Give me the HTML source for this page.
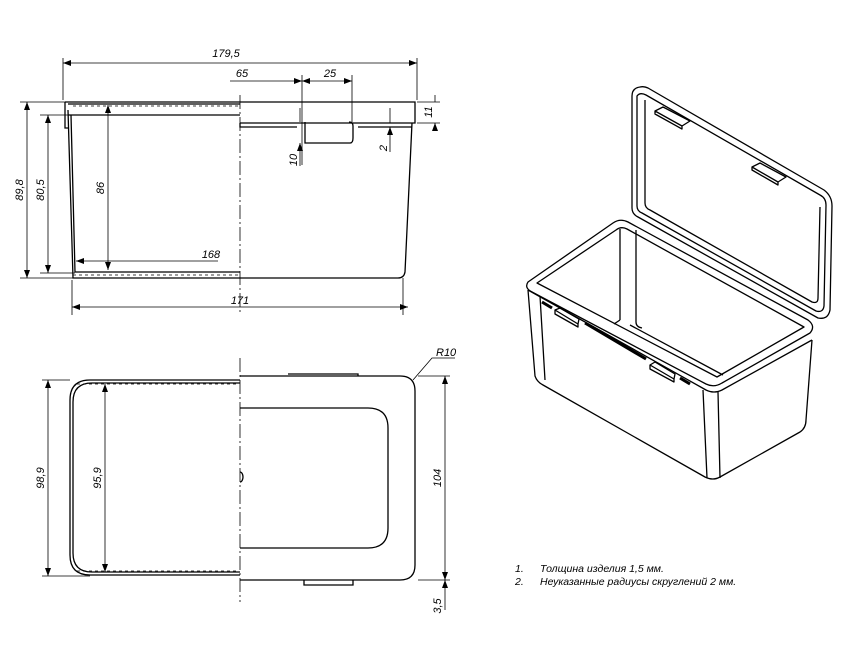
<!DOCTYPE html>
<html><head><meta charset="utf-8"><style>html,body{margin:0;padding:0;background:#fff}svg{display:block}</style></head>
<body>
<svg width="866" height="650" viewBox="0 0 866 650" xmlns="http://www.w3.org/2000/svg" font-family="Liberation Sans, DejaVu Sans, sans-serif" font-style="italic" font-size="11" fill="none" stroke="#000">
<defs>
<marker id="a" markerWidth="8" markerHeight="6" refX="8" refY="3" orient="auto-start-reverse" markerUnits="userSpaceOnUse"><path d="M0,0 L8,3 L0,6" fill="#000" stroke="none"/></marker>
</defs>
<!-- FRONT VIEW -->
<g stroke-width="1.3">
<path d="M65,102 H415 V123 H240"/>
<path d="M65,102 V128 H68"/>
<path d="M68,104 H240"/>
<path d="M68,115 H240"/>
<path d="M68,110 L73,278 H240"/>
<path d="M71,115 L75,272 H240"/>
<path d="M412,123 L405,272 Q404,278 398,278 H240"/>
<path d="M240,123 V127 H297 M358,127 H412"/>
<path d="M305,122 V143 H350 Q353,143 353,138 V126 Q353,122 349,122"/>
</g>
<g stroke-width="0.8">
<path d="M240,95 V315" stroke-dasharray="14,3,2,3"/>
<path d="M73,106 H238 M73,275 H238" stroke-dasharray="3,3"/>
<path d="M63,100 V58 M417,100 V58 M302,75 V165 M352,75 V122 M403,278 V315 M72,280 V315 M20,102 H65 M20,278 H75 M40,115 H70 M40,273 H75 M417,102 H440 M417,123 H440"/>
<path d="M63,63 H417" marker-start="url(#a)" marker-end="url(#a)"/>
<path d="M230,81 H302" marker-end="url(#a)"/>
<path d="M302,81 H352" marker-start="url(#a)" marker-end="url(#a)"/>
<path d="M72,307 H408" marker-start="url(#a)" marker-end="url(#a)"/>
<path d="M27,102 V278" marker-start="url(#a)" marker-end="url(#a)"/>
<path d="M48,115 V273" marker-start="url(#a)" marker-end="url(#a)"/>
<path d="M108,105 V270" marker-start="url(#a)" marker-end="url(#a)"/>
<path d="M218,261 H76" marker-end="url(#a)"/>
<path d="M300,108 V122 M300,166 V143" marker-end="url(#a)"/>
<path d="M390,108 V123 M390,152 V127" marker-end="url(#a)"/>
<path d="M435,95 V102 M435,130 V123" marker-end="url(#a)"/>
</g>
<g fill="#000" stroke="none">
<text x="226" y="57" text-anchor="middle">179,5</text>
<text x="242" y="77" text-anchor="middle">65</text>
<text x="330" y="77" text-anchor="middle">25</text>
<text x="240" y="304" text-anchor="middle">171</text>
<text x="211" y="258" text-anchor="middle">168</text>
<text transform="translate(23,190) rotate(-90)" text-anchor="middle">89,8</text>
<text transform="translate(44,190) rotate(-90)" text-anchor="middle">80,5</text>
<text transform="translate(104,188) rotate(-90)" text-anchor="middle">86</text>
<text transform="translate(297,160) rotate(-90)" text-anchor="middle">10</text>
<text transform="translate(387,148) rotate(-90)" text-anchor="middle">2</text>
<text transform="translate(432,112) rotate(-90)" text-anchor="middle">11</text>
</g>
<!-- TOP VIEW -->
<g stroke-width="1.3">
<path d="M240,380 H90 Q70,380 70,400 V555 Q70,575 90,575 H240"/>
<path d="M240,383 H92 Q73,383 73,402 V553 Q73,572 92,572 H240"/>
<path d="M240,376 H400 Q415,376 415,391 V565 Q415,580 400,580 H240"/>
<path d="M240,408 H368 Q388,408 388,428 V528 Q388,548 368,548 H240"/>
<path d="M288,374 H358 V376 M304,580 V585 H353 V580"/>
<path d="M240,472 A3,5 0 0 1 240,482"/>
</g>
<g stroke-width="0.8">
<path d="M240,358 V602" stroke-dasharray="14,3,2,3"/>
<path d="M77,384 H238 M77,571 H238" stroke-dasharray="3,3"/>
<path d="M42,380 H70 M42,576 H90 M418,376 H450 M418,580 H450"/>
<path d="M48,380 V576" marker-start="url(#a)" marker-end="url(#a)"/>
<path d="M105,384 V572" marker-start="url(#a)" marker-end="url(#a)"/>
<path d="M445,376 V580" marker-start="url(#a)" marker-end="url(#a)"/>
<path d="M445,610 V580" marker-end="url(#a)"/>
<path d="M455,358 H432 L413,380"/>
</g>
<g fill="#000" stroke="none">
<text x="436" y="356">R10</text>
<text transform="translate(44,478) rotate(-90)" text-anchor="middle">98,9</text>
<text transform="translate(101,478) rotate(-90)" text-anchor="middle">95,9</text>
<text transform="translate(441,478) rotate(-90)" text-anchor="middle">104</text>
<text transform="translate(441,606) rotate(-90)" text-anchor="middle">3,5</text>
<text x="515" y="572" font-size="10.5">1.</text><text x="540" y="572" font-size="10.5">Толщина изделия 1,5 мм.</text>
<text x="515" y="585" font-size="10.5">2.</text><text x="540" y="585" font-size="10.5">Неуказанные радиусы скруглений 2 мм.</text>
</g>
<!-- ISOMETRIC -->
<g stroke-width="1.3" stroke-linejoin="round">
<path d="M640,87 Q632,88 632,96 V208 Q632,214 638,217 L818,318 Q828,320 830,310 L832,206 Q832,196 824,190 L648,88 Q644,86 640,87 Z"/>
<path d="M637,96 V206 Q637,211 642,213 L816,311 Q823,313 824,306 L826,205 Q826,198 820,195 L646,95 Q640,92 637,96 Z"/>
<path d="M645,100 V203 Q645,208 650,210 L812,302 Q818,304 818,298 L820,207"/>
<path d="M655,111 L663,107 L690,121 L682,126 Z M682,126 V129 L655,114 V111 M752,167 L760,163 L786,177 L778,182 Z M778,182 V185 L752,170 V167"/>
<path d="M528,282 L613,223 Q620,218 628,222 L808,320 Q816,326 810,333 L722,383 Q714,388 706,384 L532,292 Q524,288 528,282 Z"/>
<path d="M537,283 L616,230 Q621,226 627,229 L804,327 L717,377 Z"/>
<path d="M528,290 L706,390 Q714,394 722,390 L812,340"/>
<path d="M620,229 V320 M636,230 V322 Q636,327 642,328"/>
<path d="M620,320 L614,324 M630,325 L723,375"/>
<path d="M528,290 L535,376 Q537,382 543,385 L705,477 Q713,481 720,477 L800,432 Q806,428 806,420 L812,340"/>
<path d="M540,296 L545,380 M703,390 L707,478 M718,392 L720,478"/>
<path d="M542,302 L552,308 M585,323 L646,359 M680,378 L690,384" stroke-width="3"/>
<path d="M555,310 L560,308 L579,319 L578,324 Z M555,310 V314 L578,327 V324 M650,365 L655,362 L675,374 L674,379 Z M650,365 V369 L674,382 V379"/>
</g>
</svg>
</body></html>
